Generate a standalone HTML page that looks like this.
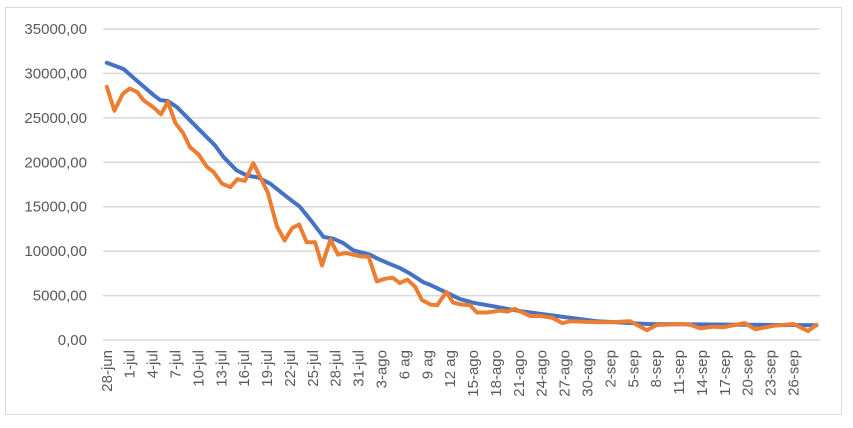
<!DOCTYPE html>
<html><head><meta charset="utf-8"><style>
body{margin:0;background:#fff;width:853px;height:428px;overflow:hidden}
svg{display:block}
text{font-family:"Liberation Sans",sans-serif;font-size:15px;fill:#595959}
</style></head><body>
<svg id="s" width="853" height="428" xmlns="http://www.w3.org/2000/svg">
<rect x="5.5" y="7.5" width="836" height="407" fill="#fff" stroke="#d9d9d9" stroke-width="1"/>
<g id="g"></g>
</svg>
<script>
var NS="http://www.w3.org/2000/svg",g=document.getElementById('g');
function el(t,a,txt){var e=document.createElementNS(NS,t);for(var k in a)e.setAttribute(k,a[k]);if(txt)e.textContent=txt;g.appendChild(e);return e;}
var y0=340,py=311/35000;
for(var i=0;i<=7;i++){var y=y0-i*5000*py;
el('line',{x1:103,x2:820,y1:y,y2:y,stroke:'#d9d9d9','stroke-width':1.5});
el('text',{x:87,y:y+5,'text-anchor':'end'},(i*5000)+',00');}
var X0=106.8,dx=7.63;
var labels=["28-jun","1-jul","4-jul","7-jul","10-jul","13-jul","16-jul","19-jul","22-jul","25-jul","28-jul","31-jul","3-ago","6 ag","9 ag","12 ag","15-ago","18-ago","21-ago","24-ago","27-ago","30-ago","2-sep","5-sep","8-sep","11-sep","14-sep","17-sep","20-sep","23-sep","26-sep"];
labels.forEach(function(l,i){var x=X0+i*3*dx+5;el('text',{x:x,y:350,'text-anchor':'end',transform:'rotate(-90 '+x+' 350)'},l);});
var blue=[[0,31200],[2.2,30500],[3.9,29200],[6.1,27600],[7,27000],[8,26900],[9.2,26200],[12.2,23600],[14.2,21900],[15.3,20600],[17,19100],[18.4,18500],[19.8,18300],[21.4,17600],[23.6,16100],[25.3,15000],[26.9,13300],[28.4,11600],[29.7,11400],[31,10900],[32.3,10100],[34.5,9600],[35.4,9200],[36.7,8700],[38.4,8100],[39.7,7500],[41.5,6500],[42.4,6200],[44.6,5300],[46.3,4600],[48,4200],[50.6,3800],[53.8,3300],[59.8,2600],[64.3,2100],[70.8,1800],[93,1650]];
var org=[[0,28500],[1,25800],[2.1,27700],[3,28300],[4,27900],[4.8,27000],[6.1,26200],[7.1,25400],[8,26800],[9,24400],[10,23300],[10.9,21700],[12,20900],[13.1,19500],[14,18900],[15.1,17600],[16.2,17200],[17.1,18100],[18.1,17900],[19.2,19900],[20.3,18000],[21.1,16600],[22.3,12800],[23.3,11200],[24.3,12600],[25.2,13000],[26.2,11000],[27.3,11000],[28.2,8400],[29.3,11300],[30.3,9600],[31.3,9800],[32.3,9600],[33.4,9400],[34.3,9400],[35.4,6600],[36.5,6900],[37.5,7000],[38.4,6400],[39.4,6800],[40.4,6000],[41.3,4500],[42.4,4000],[43.3,3900],[44.5,5400],[45.4,4200],[46.5,4000],[47.6,3900],[48.5,3100],[49.8,3100],[51.6,3300],[52.5,3200],[53.5,3500],[55.5,2700],[56.8,2700],[58.4,2500],[59.7,1900],[60.8,2100],[64.2,2000],[66,2000],[68.6,2100],[70.8,1100],[72.1,1700],[75.6,1800],[76.5,1700],[77.8,1300],[79.5,1500],[80.8,1450],[83.6,1900],[85,1200],[87.4,1600],[90,1800],[91.9,1000],[93,1700]];
function pts2(k){return k.map(function(p){return (X0+p[0]*dx).toFixed(1)+','+(y0-p[1]*py).toFixed(1);}).join(' ');}
el('polyline',{points:pts2(blue),fill:'none',stroke:'#4472c4','stroke-width':4,'stroke-linejoin':'round','stroke-linecap':'round'});
el('polyline',{points:pts2(org),fill:'none',stroke:'#ed7d31','stroke-width':4,'stroke-linejoin':'round','stroke-linecap':'round'});
</script>
</body></html>
